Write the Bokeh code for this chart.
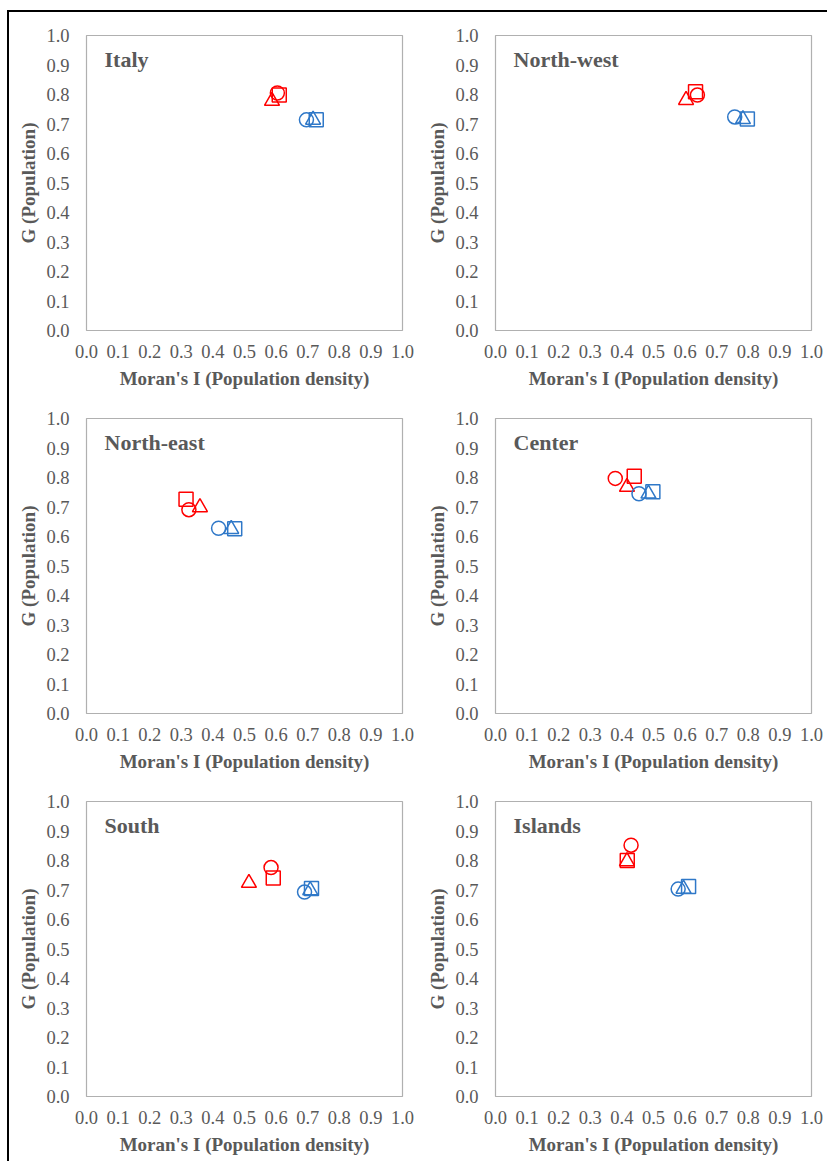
from bokeh.plotting import figure
from bokeh.layouts import column, row
from bokeh.models import Range1d, FixedTicker, PrintfTickFormatter, Label
from bokeh.embed import file_html
from bokeh.resources import INLINE

# ---- data ----
regions = ["Italy", "North-west", "North-east", "Center", "South", "Islands"]

red_circle_x = [0.604, 0.639, 0.324, 0.379, 0.584, 0.429]
red_circle_y = [0.805, 0.798, 0.691, 0.797, 0.776, 0.852]
red_square_x = [0.610, 0.633, 0.315, 0.439, 0.591, 0.417]
red_square_y = [0.798, 0.809, 0.726, 0.804, 0.741, 0.800]
red_triangle_x = [0.587, 0.603, 0.359, 0.416, 0.514, 0.416]
red_triangle_y = [0.778, 0.781, 0.699, 0.768, 0.724, 0.797]

blue_circle_x = [0.696, 0.757, 0.418, 0.454, 0.690, 0.578]
blue_circle_y = [0.714, 0.724, 0.628, 0.745, 0.693, 0.703]
blue_triangle_x = [0.717, 0.783, 0.458, 0.484, 0.708, 0.595]
blue_triangle_y = [0.714, 0.716, 0.625, 0.745, 0.699, 0.704]
blue_square_x = [0.727, 0.797, 0.469, 0.498, 0.712, 0.611]
blue_square_y = [0.714, 0.717, 0.626, 0.752, 0.705, 0.712]

tick_values = [0.0, 0.1, 0.2, 0.3, 0.4, 0.5, 0.6, 0.7, 0.8, 0.9, 1.0]
x_title = "Moran's I (Population density)"
y_title = "G (Population)"

RED = "#FF0000"
BLUE = "#2F78C8"
GRAY = "#595959"
FONT = "Liberation Serif"


def make_panel(i):
    p = figure(width=409, height=383, output_backend="svg", toolbar_location=None,
               x_range=Range1d(0, 1), y_range=Range1d(0, 1),
               min_border_left=77, min_border_right=16,
               min_border_top=23, min_border_bottom=65)
    p.xgrid.visible = False
    p.ygrid.visible = False
    p.outline_line_color = "#B0B0B0"
    p.outline_line_width = 1.2
    p.background_fill_color = "white"
    p.border_fill_color = "white"
    for ax in (p.xaxis[0], p.yaxis[0]):
        ax.ticker = FixedTicker(ticks=tick_values)
        ax.formatter = PrintfTickFormatter(format="%.1f")
        ax.axis_line_color = None
        ax.major_tick_line_color = None
        ax.minor_tick_line_color = None
        ax.major_tick_out = 0
        ax.major_tick_in = 0
        ax.major_label_text_font = FONT
        ax.major_label_text_font_size = "18.5px"
        ax.major_label_text_color = GRAY
        ax.axis_label_text_font = FONT
        ax.axis_label_text_font_size = "19px"
        ax.axis_label_text_font_style = "bold"
        ax.axis_label_text_color = GRAY
    p.xaxis.axis_label = x_title
    p.yaxis.axis_label = y_title
    p.yaxis.major_label_standoff = 17
    p.yaxis.axis_label_standoff = 4
    p.xaxis.major_label_standoff = 14
    p.xaxis.axis_label_standoff = 7

    p.add_layout(Label(x=0.057, y=0.918, text=regions[i], text_font=FONT,
                       text_font_size="22px", text_font_style="bold",
                       text_color=GRAY, text_baseline="alphabetic"))

    kw = dict(fill_color=None, line_width=1.5)
    p.scatter([red_circle_x[i]], [red_circle_y[i]], marker="circle", size=14, line_color=RED, **kw)
    p.scatter([red_square_x[i]], [red_square_y[i]], marker="square", size=14, line_color=RED, **kw)
    p.scatter([red_triangle_x[i]], [red_triangle_y[i]], marker="triangle", size=15, line_color=RED, **kw)
    p.scatter([blue_circle_x[i]], [blue_circle_y[i]], marker="circle", size=14, line_color=BLUE, **kw)
    p.scatter([blue_triangle_x[i]], [blue_triangle_y[i]], marker="triangle", size=15, line_color=BLUE, **kw)
    p.scatter([blue_square_x[i]], [blue_square_y[i]], marker="square", size=14, line_color=BLUE, **kw)
    return p


panels = [make_panel(i) for i in range(6)]
layout = column(row(panels[0], panels[1]), row(panels[2], panels[3]), row(panels[4], panels[5]),
                styles={"border-left": "2px solid black", "border-top": "2px solid black",
                        "margin-top": "10px", "margin-left": "7px"})

open("out.html", "w").write(file_html(layout, INLINE))
